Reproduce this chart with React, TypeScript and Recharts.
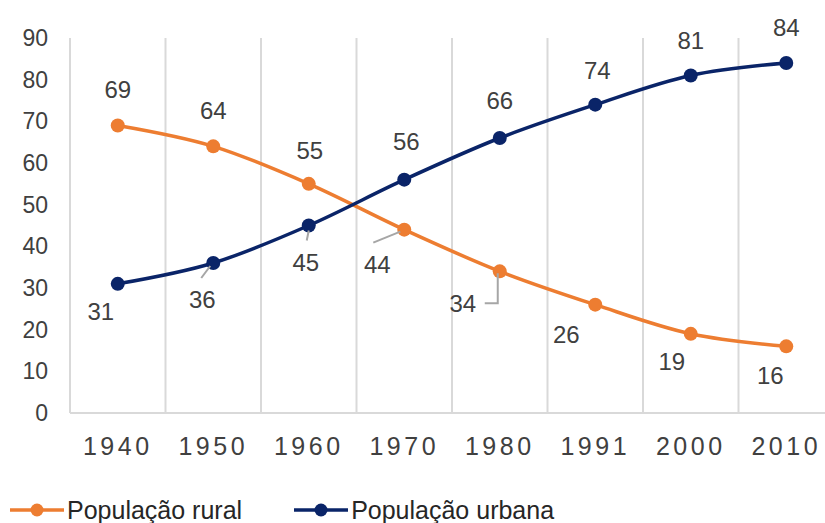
import React from "react";
import {
  LineChart,
  Line,
  XAxis,
  YAxis,
  CartesianGrid,
  Legend,
  LabelList,
} from "recharts";

const years = ["1940", "1950", "1960", "1970", "1980", "1991", "2000", "2010"];
const rural = [69, 64, 55, 44, 34, 26, 19, 16];
const urban = [31, 36, 45, 56, 66, 74, 81, 84];
const yTicks = [0, 10, 20, 30, 40, 50, 60, 70, 80, 90];

const RURAL_NAME = "População rural";
const URBAN_NAME = "População urbana";
const RURAL_COLOR = "#ED7D31";
const URBAN_COLOR = "#0A2468";

// label placement relative to each point (dx, dy)
const ruralLabelPos = [[0, -36], [0, -36], [1, -33], [-27, 35], [-37, 32], [-29, 30], [-19, 28], [-16, 29]];
const urbanLabelPos = [[-17, 28], [-11, 36], [-3, 37], [2, -38], [0, -38], [2, -34], [0, -35], [0, -36]];
// leader lines, relative to the point
const ruralLeaders: Record<number, number[][]> = {
  3: [[-31, 13], [-4, 2]],
  4: [[-15, 32], [-2, 32], [-2, 2]],
};
const urbanLeaders: Record<number, number[][]> = {
  1: [[-12, 15], [-3, 3]],
  2: [[-2, 15], [0, 5]],
};

const CHART_W = 840;
const CHART_H = 523;
const MARGIN = { top: 38, right: 6, left: 0, bottom: 0 };
const Y_W = 70;
const PLOT_W = CHART_W - MARGIN.left - MARGIN.right - Y_W;
const HALF_BAND = PLOT_W / years.length / 2;

const data = years.map((year, i) => ({ year, rural: rural[i], urban: urban[i] }));

function makeLabel(pos: number[][], leaders: Record<number, number[][]>) {
  return (props: any) => {
    const { x, y, value, index } = props;
    const [dx, dy] = pos[index];
    const leader = leaders[index];
    return (
      <g>
        {leader && (
          <polyline
            points={leader.map(([lx, ly]) => `${x + lx},${y + ly}`).join(" ")}
            fill="none"
            stroke="#A6A6A6"
            strokeWidth={2}
          />
        )}
        <text
          x={x + dx}
          y={y + dy}
          textAnchor="middle"
          dominantBaseline="central"
          fontSize={24}
          fill="#404040"
        >
          {value}
        </text>
      </g>
    );
  };
}

function LegendIcon({ color }: { color: string }) {
  return (
    <svg width={54} height={16} style={{ display: "block" }}>
      <line x1={0} y1={8} x2={54} y2={8} stroke={color} strokeWidth={3.5} />
      <circle cx={27} cy={8} r={6.5} fill={color} />
    </svg>
  );
}

function renderLegend() {
  const items = [
    { name: RURAL_NAME, color: RURAL_COLOR },
    { name: URBAN_NAME, color: URBAN_COLOR },
  ];
  return (
    <div style={{ display: "flex", alignItems: "center", paddingLeft: 10, gap: 52, height: 26 }}>
      {items.map((it) => (
        <div key={it.name} style={{ display: "flex", alignItems: "center", gap: 3 }}>
          <LegendIcon color={it.color} />
          <span style={{ fontSize: 25, color: "#262626", lineHeight: "26px" }}>{it.name}</span>
        </div>
      ))}
    </div>
  );
}

export default function App() {
  return (
    <div
      style={{
        position: "absolute",
        left: 0,
        top: 0,
        width: 825,
        height: 523,
        overflow: "hidden",
        background: "#fff",
        fontFamily: "'Liberation Sans', Arial, sans-serif",
      }}
    >
      <LineChart width={CHART_W} height={CHART_H} data={data} margin={MARGIN}>
        <CartesianGrid
          horizontal={false}
          stroke="#D9D9D9"
          strokeWidth={2}
          verticalCoordinatesGenerator={({ offset }: any) =>
            Array.from({ length: years.length + 1 }, (_, i) => offset.left + (i * offset.width) / years.length)
          }
        />
        <XAxis
          dataKey="year"
          padding={{ left: HALF_BAND, right: HALF_BAND }}
          axisLine={{ stroke: "#D9D9D9", strokeWidth: 2 }}
          tickLine={false}
          tickSize={0}
          tickMargin={24}
          height={84}
          tick={{ fontSize: 25, fill: "#404040", letterSpacing: 3.5 } as any}
        />
        <YAxis
          domain={[0, 90]}
          ticks={yTicks}
          width={Y_W}
          axisLine={false}
          tickLine={false}
          tickSize={0}
          tickMargin={22}
          tick={{ fontSize: 23, fill: "#404040" }}
        />
        <Legend verticalAlign="bottom" align="left" content={renderLegend} />
        <Line
          type="monotone"
          dataKey="rural"
          name={RURAL_NAME}
          stroke={RURAL_COLOR}
          strokeWidth={3.5}
          dot={{ r: 7, fill: RURAL_COLOR, stroke: "none" }}
          isAnimationActive={false}
        >
          <LabelList dataKey="rural" content={makeLabel(ruralLabelPos, ruralLeaders)} />
        </Line>
        <Line
          type="monotone"
          dataKey="urban"
          name={URBAN_NAME}
          stroke={URBAN_COLOR}
          strokeWidth={3.5}
          dot={{ r: 7, fill: URBAN_COLOR, stroke: "none" }}
          isAnimationActive={false}
        >
          <LabelList dataKey="urban" content={makeLabel(urbanLabelPos, urbanLeaders)} />
        </Line>
      </LineChart>
    </div>
  );
}
